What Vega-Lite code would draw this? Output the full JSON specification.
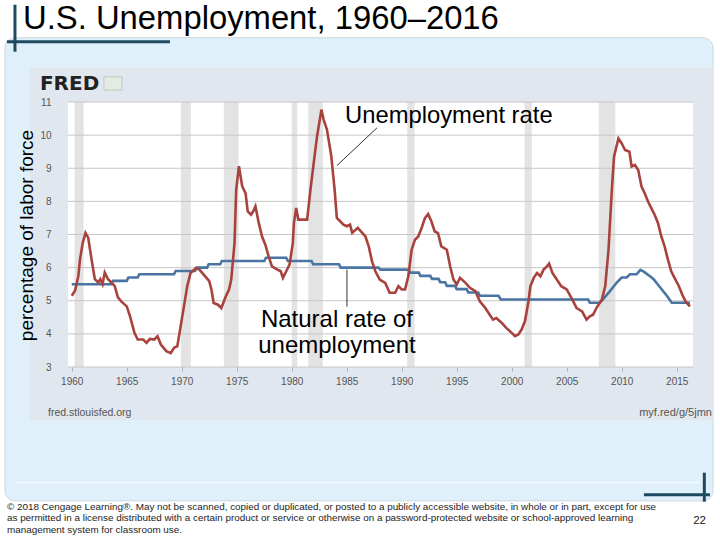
{
  "$schema": "https://vega.github.io/schema/vega-lite/v6.json",
  "width": 625,
  "height": 265,
  "autosize": {"type": "none"},
  "padding": {"left": 68, "top": 102, "right": 27, "bottom": 173},
  "background": "white",
  "config": {"view": {"stroke": null}, "font": "Liberation Sans"},
  "datasets": {
    "unrate": [
      {"year": 1960.0, "rate": 5.15}, {"year": 1960.3, "rate": 5.3}, {"year": 1960.6, "rate": 5.75}, {"year": 1960.75, "rate": 6.25},
      {"year": 1961.0, "rate": 6.75}, {"year": 1961.25, "rate": 7.05}, {"year": 1961.5, "rate": 6.9}, {"year": 1961.8, "rate": 6.25},
      {"year": 1962.1, "rate": 5.65}, {"year": 1962.4, "rate": 5.55}, {"year": 1962.6, "rate": 5.65}, {"year": 1962.8, "rate": 5.5},
      {"year": 1963.0, "rate": 5.85}, {"year": 1963.3, "rate": 5.65}, {"year": 1963.6, "rate": 5.55}, {"year": 1963.9, "rate": 5.45},
      {"year": 1964.2, "rate": 5.1}, {"year": 1964.5, "rate": 4.98}, {"year": 1965.0, "rate": 4.83}, {"year": 1965.3, "rate": 4.53},
      {"year": 1965.7, "rate": 4.03}, {"year": 1966.0, "rate": 3.83}, {"year": 1966.5, "rate": 3.83}, {"year": 1966.8, "rate": 3.73},
      {"year": 1967.1, "rate": 3.85}, {"year": 1967.5, "rate": 3.83}, {"year": 1967.8, "rate": 3.93}, {"year": 1968.1, "rate": 3.68},
      {"year": 1968.6, "rate": 3.48}, {"year": 1969.0, "rate": 3.42}, {"year": 1969.3, "rate": 3.58}, {"year": 1969.6, "rate": 3.63},
      {"year": 1969.9, "rate": 4.23}, {"year": 1970.2, "rate": 4.83}, {"year": 1970.5, "rate": 5.44}, {"year": 1970.8, "rate": 5.84},
      {"year": 1971.3, "rate": 5.99}, {"year": 1971.6, "rate": 5.94}, {"year": 1972.0, "rate": 5.79}, {"year": 1972.5, "rate": 5.59},
      {"year": 1972.7, "rate": 5.34}, {"year": 1972.9, "rate": 4.93}, {"year": 1973.3, "rate": 4.88}, {"year": 1973.6, "rate": 4.78},
      {"year": 1974.0, "rate": 5.13}, {"year": 1974.3, "rate": 5.34}, {"year": 1974.5, "rate": 5.64}, {"year": 1974.8, "rate": 6.74},
      {"year": 1974.95, "rate": 8.35}, {"year": 1975.2, "rate": 9.06}, {"year": 1975.5, "rate": 8.45}, {"year": 1975.8, "rate": 8.25},
      {"year": 1976.0, "rate": 7.7}, {"year": 1976.3, "rate": 7.6}, {"year": 1976.5, "rate": 7.7}, {"year": 1976.7, "rate": 7.85},
      {"year": 1977.0, "rate": 7.35}, {"year": 1977.3, "rate": 6.94}, {"year": 1977.6, "rate": 6.69}, {"year": 1977.9, "rate": 6.34},
      {"year": 1978.2, "rate": 6.04}, {"year": 1978.7, "rate": 5.94}, {"year": 1979.0, "rate": 5.89}, {"year": 1979.2, "rate": 5.69},
      {"year": 1979.5, "rate": 5.89}, {"year": 1979.8, "rate": 6.09}, {"year": 1980.1, "rate": 6.74}, {"year": 1980.2, "rate": 7.35},
      {"year": 1980.4, "rate": 7.8}, {"year": 1980.6, "rate": 7.45}, {"year": 1981.0, "rate": 7.45}, {"year": 1981.4, "rate": 7.45},
      {"year": 1981.7, "rate": 8.35}, {"year": 1982.0, "rate": 9.16}, {"year": 1982.3, "rate": 9.96}, {"year": 1982.7, "rate": 10.77},
      {"year": 1982.9, "rate": 10.47}, {"year": 1983.2, "rate": 10.17}, {"year": 1983.6, "rate": 9.36}, {"year": 1983.9, "rate": 8.35},
      {"year": 1984.1, "rate": 7.5}, {"year": 1984.4, "rate": 7.4}, {"year": 1984.7, "rate": 7.3}, {"year": 1985.0, "rate": 7.25},
      {"year": 1985.3, "rate": 7.3}, {"year": 1985.5, "rate": 7.05}, {"year": 1986.0, "rate": 7.2}, {"year": 1986.7, "rate": 6.94},
      {"year": 1987.0, "rate": 6.64}, {"year": 1987.3, "rate": 6.19}, {"year": 1987.6, "rate": 5.89}, {"year": 1988.0, "rate": 5.64},
      {"year": 1988.5, "rate": 5.54}, {"year": 1988.9, "rate": 5.24}, {"year": 1989.4, "rate": 5.24}, {"year": 1989.7, "rate": 5.44},
      {"year": 1990.0, "rate": 5.34}, {"year": 1990.3, "rate": 5.34}, {"year": 1990.6, "rate": 5.74}, {"year": 1990.9, "rate": 6.54},
      {"year": 1991.2, "rate": 6.84}, {"year": 1991.5, "rate": 6.94}, {"year": 1991.8, "rate": 7.19}, {"year": 1992.1, "rate": 7.49},
      {"year": 1992.4, "rate": 7.62}, {"year": 1992.7, "rate": 7.39}, {"year": 1993.0, "rate": 7.09}, {"year": 1993.3, "rate": 7.04},
      {"year": 1993.6, "rate": 6.64}, {"year": 1994.1, "rate": 6.54}, {"year": 1994.4, "rate": 6.04}, {"year": 1994.7, "rate": 5.64},
      {"year": 1995.0, "rate": 5.49}, {"year": 1995.3, "rate": 5.69}, {"year": 1995.8, "rate": 5.54}, {"year": 1996.2, "rate": 5.39},
      {"year": 1996.7, "rate": 5.29}, {"year": 1997.1, "rate": 4.98}, {"year": 1997.6, "rate": 4.78}, {"year": 1998.0, "rate": 4.58},
      {"year": 1998.3, "rate": 4.43}, {"year": 1998.6, "rate": 4.48}, {"year": 1999.1, "rate": 4.33}, {"year": 1999.5, "rate": 4.18},
      {"year": 2000.0, "rate": 4.03}, {"year": 2000.3, "rate": 3.93}, {"year": 2000.6, "rate": 3.98}, {"year": 2000.9, "rate": 4.13},
      {"year": 2001.2, "rate": 4.38}, {"year": 2001.5, "rate": 4.93}, {"year": 2001.7, "rate": 5.44}, {"year": 2002.0, "rate": 5.69},
      {"year": 2002.3, "rate": 5.84}, {"year": 2002.6, "rate": 5.74}, {"year": 2002.9, "rate": 5.94}, {"year": 2003.2, "rate": 6.04},
      {"year": 2003.4, "rate": 6.12}, {"year": 2003.7, "rate": 5.84}, {"year": 2004.1, "rate": 5.64}, {"year": 2004.5, "rate": 5.44},
      {"year": 2005.0, "rate": 5.34}, {"year": 2005.5, "rate": 5.04}, {"year": 2005.9, "rate": 4.78}, {"year": 2006.4, "rate": 4.68},
      {"year": 2006.8, "rate": 4.43}, {"year": 2007.1, "rate": 4.53}, {"year": 2007.4, "rate": 4.58}, {"year": 2007.7, "rate": 4.78},
      {"year": 2008.2, "rate": 5.04}, {"year": 2008.5, "rate": 5.44}, {"year": 2008.8, "rate": 6.54}, {"year": 2009.1, "rate": 8.34},
      {"year": 2009.3, "rate": 9.35}, {"year": 2009.7, "rate": 9.9}, {"year": 2010.0, "rate": 9.75}, {"year": 2010.3, "rate": 9.55},
      {"year": 2010.7, "rate": 9.5}, {"year": 2010.9, "rate": 9.05}, {"year": 2011.2, "rate": 9.1}, {"year": 2011.5, "rate": 8.95},
      {"year": 2011.8, "rate": 8.45}, {"year": 2012.1, "rate": 8.24}, {"year": 2012.4, "rate": 7.99}, {"year": 2012.7, "rate": 7.79},
      {"year": 2013.0, "rate": 7.59}, {"year": 2013.3, "rate": 7.34}, {"year": 2013.6, "rate": 6.94}, {"year": 2013.9, "rate": 6.64},
      {"year": 2014.2, "rate": 6.24}, {"year": 2014.5, "rate": 5.89}, {"year": 2014.8, "rate": 5.69}, {"year": 2015.2, "rate": 5.44},
      {"year": 2015.5, "rate": 5.19}, {"year": 2015.8, "rate": 4.98}, {"year": 2016.2, "rate": 4.83}
    ],
    "nrou": [
      {"year": 1960.0, "rate": 5.5}, {"year": 1963.6, "rate": 5.5}, {"year": 1963.75, "rate": 5.6}, {"year": 1965.0, "rate": 5.6},
      {"year": 1965.15, "rate": 5.7}, {"year": 1966.0, "rate": 5.7}, {"year": 1966.15, "rate": 5.8}, {"year": 1969.3, "rate": 5.8},
      {"year": 1969.45, "rate": 5.9}, {"year": 1971.2, "rate": 5.9}, {"year": 1971.35, "rate": 6.0}, {"year": 1972.3, "rate": 6.0},
      {"year": 1972.45, "rate": 6.1}, {"year": 1973.5, "rate": 6.1}, {"year": 1973.65, "rate": 6.2}, {"year": 1977.5, "rate": 6.2},
      {"year": 1977.65, "rate": 6.3}, {"year": 1979.5, "rate": 6.3}, {"year": 1979.65, "rate": 6.2}, {"year": 1981.8, "rate": 6.2},
      {"year": 1981.95, "rate": 6.1}, {"year": 1984.3, "rate": 6.1}, {"year": 1984.45, "rate": 6.0}, {"year": 1987.9, "rate": 6.0},
      {"year": 1988.05, "rate": 5.94}, {"year": 1990.6, "rate": 5.94}, {"year": 1990.75, "rate": 5.85}, {"year": 1991.55, "rate": 5.85},
      {"year": 1991.7, "rate": 5.75}, {"year": 1992.6, "rate": 5.75}, {"year": 1992.75, "rate": 5.66}, {"year": 1993.35, "rate": 5.66},
      {"year": 1993.5, "rate": 5.56}, {"year": 1993.95, "rate": 5.56}, {"year": 1994.1, "rate": 5.45}, {"year": 1994.85, "rate": 5.45},
      {"year": 1995.0, "rate": 5.35}, {"year": 1995.9, "rate": 5.35}, {"year": 1996.05, "rate": 5.25}, {"year": 1996.95, "rate": 5.25},
      {"year": 1997.1, "rate": 5.15}, {"year": 1998.8, "rate": 5.15}, {"year": 1999.0, "rate": 5.04}, {"year": 2006.95, "rate": 5.04},
      {"year": 2007.1, "rate": 4.94}, {"year": 2008.0, "rate": 4.94}, {"year": 2008.3, "rate": 5.04}, {"year": 2008.95, "rate": 5.3},
      {"year": 2009.55, "rate": 5.55}, {"year": 2010.0, "rate": 5.7}, {"year": 2010.45, "rate": 5.7}, {"year": 2010.75, "rate": 5.8},
      {"year": 2011.35, "rate": 5.8}, {"year": 2011.7, "rate": 5.93}, {"year": 2012.0, "rate": 5.88}, {"year": 2012.6, "rate": 5.73},
      {"year": 2012.9, "rate": 5.65}, {"year": 2013.5, "rate": 5.4}, {"year": 2014.1, "rate": 5.15}, {"year": 2014.55, "rate": 4.94},
      {"year": 2016.2, "rate": 4.94}
    ],
    "recessions": [
      {"start": 1960.25, "end": 1961.08}, {"start": 1969.92, "end": 1970.83}, {"start": 1973.83, "end": 1975.17},
      {"start": 1980.0, "end": 1980.5}, {"start": 1981.5, "end": 1982.83}, {"start": 1990.5, "end": 1991.17},
      {"start": 2001.17, "end": 2001.83}, {"start": 2007.92, "end": 2009.42}
    ],
    "gridlines": [{"v": 3}, {"v": 4}, {"v": 5}, {"v": 6}, {"v": 7}, {"v": 8}, {"v": 9}, {"v": 10}, {"v": 11}]
  },
  "encoding": {
    "x": {
      "type": "quantitative",
      "scale": {"domain": [1959.66, 2016.48], "nice": false, "zero": false},
      "axis": {
        "values": [1960, 1965, 1970, 1975, 1980, 1985, 1990, 1995, 2000, 2005, 2010, 2015],
        "format": "d", "title": null, "grid": false, "domain": false, "zindex": 1,
        "labelFlush": false, "labelFontSize": 10, "labelColor": "#555555",
        "tickColor": "#b0b0b0", "tickSize": 4, "labelPadding": 5
      }
    },
    "y": {
      "type": "quantitative",
      "scale": {"domain": [3, 11], "nice": false, "zero": false},
      "axis": {
        "values": [3, 4, 5, 6, 7, 8, 9, 10, 11],
        "grid": false, "domain": false, "ticks": false, "zindex": 1,
        "labelFontSize": 10, "labelColor": "#555555", "labelPadding": 17,
        "title": "percentage of labor force", "titleFontSize": 19, "titleFontWeight": "normal",
        "titleColor": "#000000", "titleAngle": 270, "titleX": -42, "titleY": 133,
        "titleAlign": "center", "titleBaseline": "middle"
      }
    }
  },
  "layer": [
    {
      "data": {"values": [{}]},
      "mark": {"type": "rect", "fill": "#dff0fa", "stroke": "#cdd7de", "strokeWidth": 1, "cornerRadius": 10},
      "encoding": {
        "x": {"datum": 1953.93, "type": "quantitative"}, "x2": {"datum": 2018.3},
        "y": {"datum": 12.94, "type": "quantitative"}, "y2": {"datum": -1.04}
      }
    },
    {
      "data": {"values": [{}]},
      "mark": {"type": "rule", "stroke": "#f4fbff", "strokeWidth": 1.5},
      "encoding": {
        "x": {"datum": 1955.02, "type": "quantitative"}, "x2": {"datum": 2017.1},
        "y": {"datum": -0.49, "type": "quantitative"}
      }
    },
    {
      "data": {"values": [{}]},
      "mark": {"type": "rect", "fill": "#e1e7ee"},
      "encoding": {
        "x": {"datum": 1956.2, "type": "quantitative"}, "x2": {"datum": 2018.25},
        "y": {"datum": 12.03, "type": "quantitative"}, "y2": {"datum": 1.40}
      }
    },
    {
      "data": {"values": [{}]},
      "mark": {"type": "rect", "fill": "#ffffff"},
      "encoding": {
        "x": {"datum": 1959.66, "type": "quantitative"}, "x2": {"datum": 2016.48},
        "y": {"datum": 11, "type": "quantitative"}, "y2": {"datum": 3}
      }
    },
    {
      "data": {"name": "recessions"},
      "mark": {"type": "rect", "fill": "#e3e3e3"},
      "encoding": {
        "x": {"field": "start", "type": "quantitative"}, "x2": {"field": "end"},
        "y": {"datum": 11, "type": "quantitative"}, "y2": {"datum": 3}
      }
    },
    {
      "data": {"name": "gridlines"},
      "mark": {"type": "rule", "stroke": "#c6c6c6", "strokeWidth": 1},
      "encoding": {
        "y": {"field": "v", "type": "quantitative"},
        "x": {"datum": 1959.66, "type": "quantitative"}, "x2": {"datum": 2016.48}
      }
    },
    {
      "data": {"name": "nrou"},
      "mark": {"type": "line", "stroke": "#4a74a3", "strokeWidth": 2.6},
      "encoding": {
        "x": {"field": "year", "type": "quantitative"},
        "y": {"field": "rate", "type": "quantitative"}
      }
    },
    {
      "data": {"name": "unrate"},
      "mark": {"type": "line", "stroke": "#a8423d", "strokeWidth": 2.6},
      "encoding": {
        "x": {"field": "year", "type": "quantitative"},
        "y": {"field": "rate", "type": "quantitative"}
      }
    },
    {
      "data": {"values": [{}]},
      "mark": {"type": "rule", "stroke": "#000000", "strokeWidth": 0.8},
      "encoding": {
        "x": {"datum": 1984.11, "type": "quantitative"}, "x2": {"datum": 1987.75},
        "y": {"datum": 9.08, "type": "quantitative"}, "y2": {"datum": 10.22}
      }
    },
    {
      "data": {"values": [{}]},
      "mark": {"type": "rule", "stroke": "#000000", "strokeWidth": 0.8},
      "encoding": {
        "x": {"datum": 1985.02, "type": "quantitative"},
        "y": {"datum": 5.94, "type": "quantitative"}, "y2": {"datum": 4.82}
      }
    },
    {
      "data": {"values": [{}]},
      "mark": {"type": "text", "align": "left", "baseline": "alphabetic", "fontSize": 23.8, "color": "#000000", "text": "Unemployment rate"},
      "encoding": {
        "x": {"datum": 1984.84, "type": "quantitative"},
        "y": {"datum": 10.375, "type": "quantitative"}
      }
    },
    {
      "data": {"values": [{}]},
      "mark": {"type": "text", "align": "center", "baseline": "alphabetic", "fontSize": 24, "color": "#000000", "text": "Natural rate of"},
      "encoding": {
        "x": {"datum": 1984.11, "type": "quantitative"},
        "y": {"datum": 4.22, "type": "quantitative"}
      }
    },
    {
      "data": {"values": [{}]},
      "mark": {"type": "text", "align": "center", "baseline": "alphabetic", "fontSize": 24, "color": "#000000", "text": "unemployment"},
      "encoding": {
        "x": {"datum": 1984.11, "type": "quantitative"},
        "y": {"datum": 3.41, "type": "quantitative"}
      }
    },
    {
      "data": {"values": [{}]},
      "mark": {"type": "text", "align": "left", "baseline": "alphabetic", "fontSize": 32.8, "color": "#000000", "text": "U.S. Unemployment, 1960–2016"},
      "encoding": {
        "x": {"datum": 1955.57, "type": "quantitative"},
        "y": {"datum": 13.198, "type": "quantitative"}
      }
    },
    {
      "data": {"values": [{}]},
      "mark": {"type": "text", "align": "left", "baseline": "alphabetic", "fontSize": 20, "font": "DejaVu Sans", "fontWeight": "bold", "color": "#222222", "text": "FRED"},
      "encoding": {
        "x": {"datum": 1957.11, "type": "quantitative"},
        "y": {"datum": 11.371, "type": "quantitative"}
      }
    },
    {
      "data": {"values": [{}]},
      "mark": {"type": "rect", "fill": "#e4ebe2", "stroke": "#b8c0b8", "strokeWidth": 0.8},
      "encoding": {
        "x": {"datum": 1962.93, "type": "quantitative"}, "x2": {"datum": 1964.57},
        "y": {"datum": 11.76, "type": "quantitative"}, "y2": {"datum": 11.36}
      }
    },
    {
      "data": {"values": [{}]},
      "mark": {"type": "text", "align": "left", "baseline": "alphabetic", "fontSize": 10.5, "color": "#555555", "text": "fred.stlouisfed.org"},
      "encoding": {
        "x": {"datum": 1957.84, "type": "quantitative"},
        "y": {"datum": 1.52, "type": "quantitative"}
      }
    },
    {
      "data": {"values": [{}]},
      "mark": {"type": "text", "align": "right", "baseline": "alphabetic", "fontSize": 11, "color": "#555555", "text": "myf.red/g/5jmn"},
      "encoding": {
        "x": {"datum": 2018.2, "type": "quantitative"},
        "y": {"datum": 1.52, "type": "quantitative"}
      }
    },
    {
      "data": {"values": [{}]},
      "mark": {"type": "rule", "stroke": "#1d4a60", "strokeWidth": 3},
      "encoding": {
        "x": {"datum": 1954.84, "type": "quantitative"},
        "y": {"datum": 13.937, "type": "quantitative"}, "y2": {"datum": 12.519}
      }
    },
    {
      "data": {"values": [{}]},
      "mark": {"type": "rule", "stroke": "#1d4a60", "strokeWidth": 3},
      "encoding": {
        "x": {"datum": 1954.11, "type": "quantitative"}, "x2": {"datum": 1968.93},
        "y": {"datum": 12.82, "type": "quantitative"}
      }
    },
    {
      "data": {"values": [{}]},
      "mark": {"type": "rule", "stroke": "#1d4a60", "strokeWidth": 3},
      "encoding": {
        "x": {"datum": 2017.51, "type": "quantitative"},
        "y": {"datum": -0.191, "type": "quantitative"}, "y2": {"datum": -1.067}
      }
    },
    {
      "data": {"values": [{}]},
      "mark": {"type": "rule", "stroke": "#1d4a60", "strokeWidth": 3},
      "encoding": {
        "x": {"datum": 2012.02, "type": "quantitative"}, "x2": {"datum": 2018.02},
        "y": {"datum": -0.855, "type": "quantitative"}
      }
    },
    {
      "data": {"values": [{}]},
      "mark": {"type": "text", "align": "left", "baseline": "alphabetic", "fontSize": 9.9, "color": "#222222", "text": "© 2018 Cengage Learning®. May not be scanned, copied or duplicated, or posted to a publicly accessible website, in whole or in part, except for use"},
      "encoding": {
        "x": {"datum": 1954.11, "type": "quantitative"},
        "y": {"datum": -1.323, "type": "quantitative"}
      }
    },
    {
      "data": {"values": [{}]},
      "mark": {"type": "text", "align": "left", "baseline": "alphabetic", "fontSize": 9.9, "color": "#222222", "text": "as permitted in a license distributed with a certain product or service or otherwise on a password-protected website or school-approved learning"},
      "encoding": {
        "x": {"datum": 1954.11, "type": "quantitative"},
        "y": {"datum": -1.664, "type": "quantitative"}
      }
    },
    {
      "data": {"values": [{}]},
      "mark": {"type": "text", "align": "left", "baseline": "alphabetic", "fontSize": 9.9, "color": "#222222", "text": "management system for classroom use."},
      "encoding": {
        "x": {"datum": 1954.11, "type": "quantitative"},
        "y": {"datum": -2.002, "type": "quantitative"}
      }
    },
    {
      "data": {"values": [{}]},
      "mark": {"type": "text", "align": "right", "baseline": "alphabetic", "fontSize": 11.5, "color": "#222222", "text": "22"},
      "encoding": {
        "x": {"datum": 2017.66, "type": "quantitative"},
        "y": {"datum": -1.731, "type": "quantitative"}
      }
    }
  ]
}
